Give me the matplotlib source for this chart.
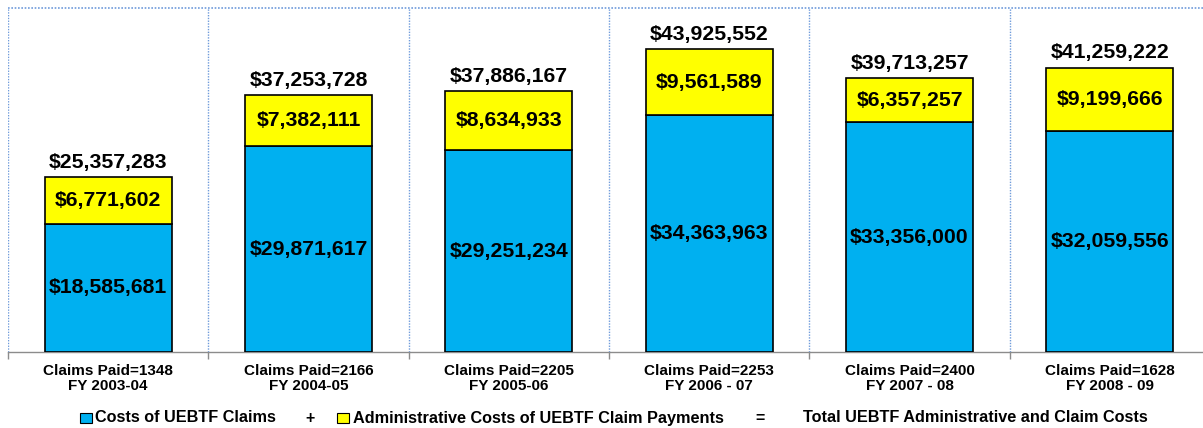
import matplotlib
matplotlib.use("Agg")
import matplotlib.pyplot as plt
from matplotlib.patches import Rectangle

# Fiscal-year data
claims_paid = [1348, 2166, 2205, 2253, 2400, 1628]
fiscal_years = ["FY 2003-04", "FY 2004-05", "FY 2005-06", "FY 2006 - 07", "FY 2007 - 08", "FY 2008 - 09"]
claim_costs = [18585681, 29871617, 29251234, 34363963, 33356000, 32059556]
admin_costs = [6771602, 7382111, 8634933, 9561589, 6357257, 9199666]
totals = [25357283, 37253728, 37886167, 43925552, 39713257, 41259222]

BLUE = "#00B0F0"
YELLOW = "#FFFF00"
GRID = "#6F9BDB"

plt.rcParams["font.family"] = ["Liberation Sans", "DejaVu Sans"]
plt.rcParams["font.weight"] = "bold"

W, H = 1203, 428
fig = plt.figure(figsize=(W / 100, H / 100), dpi=100)
ax = fig.add_axes([8 / W, 1 - 352 / H, 1202 / W, 344 / H])

x = list(range(len(claim_costs)))
ax.bar(x, claim_costs, width=0.634, color=BLUE, edgecolor="black", linewidth=1.2, zorder=3)
ax.bar(x, admin_costs, width=0.634, bottom=claim_costs, color=YELLOW, edgecolor="black",
       linewidth=1.2, zorder=3)

ax.set_xlim(-0.5, len(x) - 0.5)
ax.set_ylim(0, 49.9e6)

fmt = lambda v: "${:,}".format(v)
for i in x:
    ax.text(i, claim_costs[i] / 2, fmt(claim_costs[i]), ha="center", va="center",
            fontsize=15.3, fontweight="bold", zorder=4)
    ax.text(i, claim_costs[i] + admin_costs[i] / 2, fmt(admin_costs[i]), ha="center",
            va="center", fontsize=15.3, fontweight="bold", zorder=4)
    ax.text(i, totals[i] + 0.75e6, fmt(totals[i]), ha="center",
            va="bottom", fontsize=15.3, fontweight="bold", zorder=4)

# Category boundaries as dotted gridlines
bounds = [i - 0.5 for i in range(len(x) + 1)]
for b in bounds:
    ax.axvline(b, color=GRID, linestyle=(0, (1, 1)), linewidth=1.0, zorder=1)
ax.axhline(49.9e6, color=GRID, linestyle=(0, (1, 1)), linewidth=1.2, zorder=1, clip_on=False)

for s in ["top", "right", "left"]:
    ax.spines[s].set_visible(False)
ax.spines["bottom"].set_color("#8c8c8c")
ax.spines["bottom"].set_linewidth(1.0)

ax.set_yticks([])
ax.set_xticks(bounds)
ax.set_xticklabels([])
ax.tick_params(axis="x", length=5, color="#8c8c8c", width=1.0, direction="out")

for i in x:
    ax.text(i, -0.036, "Claims Paid={}\n{}".format(claims_paid[i], fiscal_years[i]),
            transform=ax.get_xaxis_transform(), ha="center", va="top", fontsize=11,
            fontweight="bold", linespacing=1.1)

# Equation-style legend beneath the chart
ly = 1 - 418 / H
def key(xp, color):
    fig.patches.append(Rectangle((xp / W, ly - 5 / H), 12 / W, 10 / H, transform=fig.transFigure,
                                 facecolor=color, edgecolor="black", linewidth=0.8))

key(80, BLUE)
fig.text(95 / W, ly, "Costs of UEBTF Claims", fontsize=11.7, fontweight="bold", va="center")
fig.text(310 / W, ly, "+", fontsize=11.5, fontweight="bold", va="center", ha="center")
key(337, YELLOW)
fig.text(353 / W, ly, "Administrative Costs of UEBTF Claim Payments", fontsize=11.7,
         fontweight="bold", va="center")
fig.text(760 / W, ly, "=", fontsize=11.5, fontweight="bold", va="center", ha="center")
fig.text(803 / W, ly, "Total UEBTF Administrative and Claim Costs", fontsize=11.7,
         fontweight="bold", va="center")

fig.savefig("out.png", dpi=100)
